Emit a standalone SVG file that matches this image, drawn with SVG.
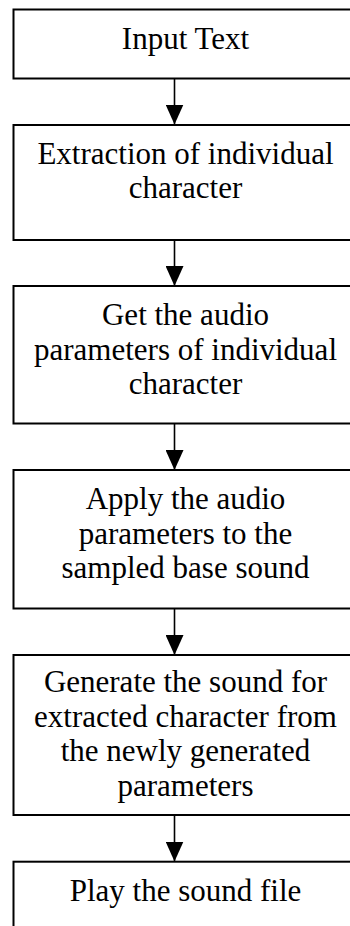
<svg xmlns="http://www.w3.org/2000/svg" width="350" height="926" viewBox="0 0 350 926">
  <style>
    .box { fill: #ffffff; stroke: #000000; stroke-width: 2; }
    .lbl { font-family: "Liberation Serif", "Times New Roman", serif; font-size: 31px; fill: #000000; text-anchor: middle; }
    .conn { stroke: #000000; stroke-width: 1.6; fill: none; marker-end: url(#arrow); }
  </style>
  <defs>
    <marker id="arrow" markerUnits="userSpaceOnUse" markerWidth="20" markerHeight="18" refX="20" refY="9" orient="auto">
      <path d="M0,0 L20,9 L0,18 z" fill="#000000"/>
    </marker>
  </defs>
  <rect width="350" height="926" fill="#ffffff"/>

  <g id="connectors">
    <line class="conn" x1="174.5" y1="78.5" x2="174.5" y2="124.5"/>
    <line class="conn" x1="174.5" y1="240.5" x2="174.5" y2="286"/>
    <line class="conn" x1="174.5" y1="423.5" x2="174.5" y2="470"/>
    <line class="conn" x1="174.5" y1="608.5" x2="174.5" y2="655"/>
    <line class="conn" x1="174.5" y1="815" x2="174.5" y2="861.5"/>
  </g>

  <g id="input-text">
    <rect class="box" x="13.5" y="9.5" width="350" height="69"/>
    <text class="lbl" x="185.5" y="48.5">Input Text</text>
  </g>

  <g id="extract-character">
    <rect class="box" x="13.5" y="125" width="350" height="115"/>
    <text class="lbl" x="185.5" y="163.5">Extraction of individual</text>
    <text class="lbl" x="185.5" y="198">character</text>
  </g>

  <g id="get-audio-parameters">
    <rect class="box" x="13.5" y="286" width="350" height="137.5"/>
    <text class="lbl" x="185.5" y="325">Get the audio</text>
    <text class="lbl" x="185.5" y="359.5">parameters of individual</text>
    <text class="lbl" x="185.5" y="394">character</text>
  </g>

  <g id="apply-parameters">
    <rect class="box" x="13.5" y="470" width="350" height="138.5"/>
    <text class="lbl" x="185.5" y="509">Apply the audio</text>
    <text class="lbl" x="185.5" y="543.5">parameters to the</text>
    <text class="lbl" x="185.5" y="578.3">sampled base sound</text>
  </g>

  <g id="generate-sound">
    <rect class="box" x="13.5" y="655" width="350" height="160"/>
    <text class="lbl" x="185.5" y="691.7">Generate the sound for</text>
    <text class="lbl" x="185.5" y="726.5">extracted character from</text>
    <text class="lbl" x="185.5" y="761">the newly generated</text>
    <text class="lbl" x="185.5" y="795.8">parameters</text>
  </g>

  <g id="play-sound">
    <rect class="box" x="13.5" y="861.7" width="350" height="100"/>
    <text class="lbl" x="185.5" y="900.7">Play the sound file</text>
  </g>
</svg>
